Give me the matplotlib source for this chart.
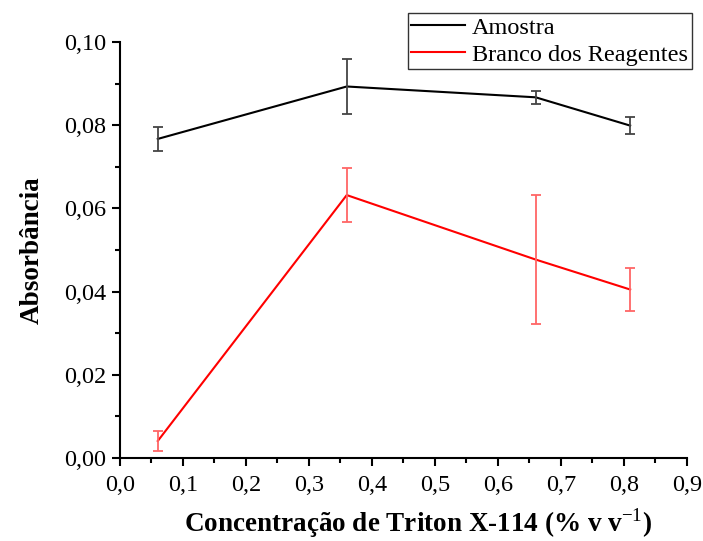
import matplotlib.pyplot as plt
from matplotlib.ticker import MultipleLocator, FuncFormatter

# Triton X-114 concentration (% v/v)
conc = [0.06, 0.36, 0.66, 0.81]

# sample absorbance and std dev
amostra = [0.0767, 0.0893, 0.0867, 0.0799]
amostra_err = [0.0029, 0.0065, 0.0016, 0.0020]

# reagent blank absorbance and std dev
branco = [0.0041, 0.0632, 0.0477, 0.0405]
branco_err = [0.0023, 0.0065, 0.0155, 0.0051]

plt.rcParams["font.family"] = ["Liberation Serif", "DejaVu Serif"]
plt.rcParams["mathtext.fontset"] = "custom"
plt.rcParams["mathtext.rm"] = "Liberation Serif"
plt.rcParams["mathtext.bf"] = "Liberation Serif:bold"

fig = plt.figure(figsize=(7.03, 5.41), dpi=100)
ax = fig.add_axes([0.1707, 0.1534, 0.8063, 0.769])

l1, = ax.plot(conc, amostra, color="black", lw=1.5, label="Amostra")
ax.errorbar(conc, amostra, yerr=amostra_err, fmt="none", ecolor="#444444",
            elinewidth=1.3, capsize=3.5, capthick=1.3)
l2, = ax.plot(conc, branco, color="red", lw=1.5, label="Branco dos Reagentes")
ax.errorbar(conc, branco, yerr=branco_err, fmt="none", ecolor="#ff6666",
            elinewidth=1.3, capsize=3.5, capthick=1.3)

ax.set_xlim(0, 0.9)
ax.set_ylim(0, 0.10)
ax.xaxis.set_major_locator(MultipleLocator(0.1))
ax.xaxis.set_minor_locator(MultipleLocator(0.05))
ax.yaxis.set_major_locator(MultipleLocator(0.02))
ax.yaxis.set_minor_locator(MultipleLocator(0.01))
ax.xaxis.set_major_formatter(FuncFormatter(lambda v, p: f"{v:.1f}".replace(".", ",")))
ax.yaxis.set_major_formatter(FuncFormatter(lambda v, p: f"{v:.2f}".replace(".", ",")))

for side in ["top", "right"]:
    ax.spines[side].set_visible(False)
for side in ["left", "bottom"]:
    ax.spines[side].set_linewidth(1.5)
ax.tick_params(which="major", direction="out", length=6, width=1.5,
               labelsize=17.5, pad=4)
ax.tick_params(axis="x", which="major", pad=6)
ax.tick_params(which="minor", direction="out", length=3.5, width=1.5)

ax.set_xlabel("Concentração de Triton X-114 (% v v$^{\\mathrm{-1}}$)",
              fontsize=19.5, fontweight="bold")
ax.xaxis.set_label_coords(0.5265, -0.115)
ax.set_ylabel("Absorbância", fontsize=19.5, fontweight="bold", labelpad=14)

fig.legend(handles=[l1, l2], loc="upper right", bbox_to_anchor=(0.984, 0.976),
           fontsize=17.5, frameon=True, fancybox=False, edgecolor="black",
           handlelength=2.2, handletextpad=0.3, borderpad=0.15,
           labelspacing=0.2, borderaxespad=0)

fig.savefig("out.png", dpi=100)
